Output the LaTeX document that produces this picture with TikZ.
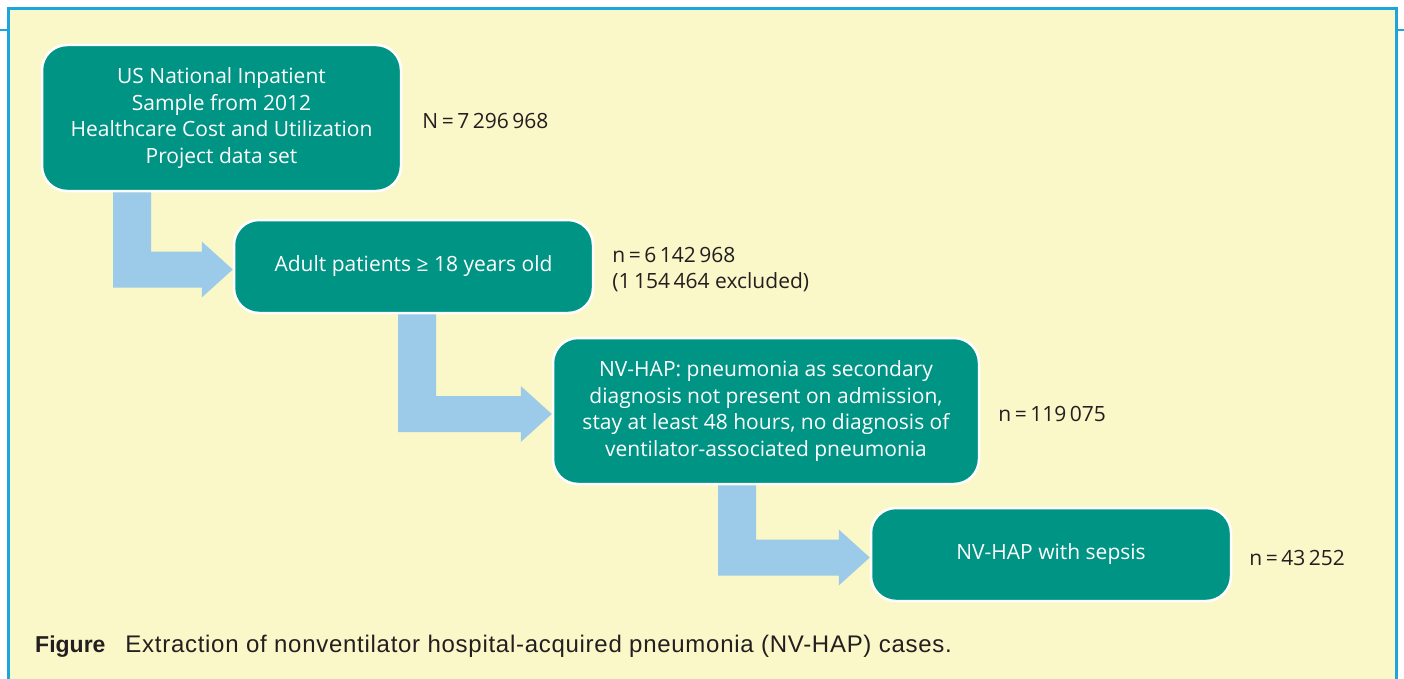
\documentclass[tikz,border=0pt]{standalone}
\usepackage{fontspec}
\setmainfont{Open Sans}
\newfontfamily\captionfont{Liberation Sans}
\newfontfamily\captionwide[LetterSpace=3]{Liberation Sans}
\usetikzlibrary{positioning, calc}
\definecolor{boxteal}{RGB}{0,148,133}
\definecolor{panelyellow}{RGB}{250,247,200}
\definecolor{frameblue}{RGB}{28,165,221}
\definecolor{arrowblue}{RGB}{156,203,233}
\definecolor{labelgray}{RGB}{35,31,32}

\newcommand{\elbowarrow}[3]{%
  \fill[flowarrow] let \p1=(#1.south), \p2=($(#2.west)+(0,3)$) in
    (#3pt,\y1) -- (#3pt+38pt,\y1) -- (#3pt+38pt,\y2+18pt) -- (\x2-31pt,\y2+18pt)
    -- (\x2-31pt,\y2+28pt) -- (\p2) -- (\x2-31pt,\y2-28pt) -- (\x2-31pt,\y2-18pt)
    -- (#3pt,\y2-18pt) -- cycle;}

\begin{document}
\begin{tikzpicture}[x=1pt, y=-1pt,
    flowbox/.style={draw=white, line width=2.5pt, fill=boxteal, rounded corners=25pt,
      text=white, align=center, inner sep=0pt, font=\fontsize{21}{26.4}\selectfont},
    countlabel/.style={text=labelgray, align=left, inner sep=0pt, yshift=-3pt,
      font=\fontsize{21}{26.4}\selectfont},
    flowarrow/.style={fill=arrowblue}]
    \useasboundingbox (0,0) rectangle (1404,679);
    \fill[panelyellow] (8,9) rectangle (1396,679);
    \draw[frameblue, line width=3pt] (8,679) -- (8,9) -- (1396,9) -- (1396,679);
    \draw[frameblue, line width=2.5pt] (0,30) -- (8,30) (1396,30) -- (1404,30);

    \node[flowbox, minimum width=359pt, minimum height=146pt] (source) at (221.5,118)
      {US National Inpatient\\Sample from 2012\\Healthcare Cost and Utilization\\Project data set};
    \node[flowbox, minimum width=359pt, minimum height=93pt] (adult) at (413.5,266.5)
      {Adult patients ≥ 18 years old};
    \node[flowbox, minimum width=426pt, minimum height=146pt] (criteria) at (766,411)
      {NV-HAP: pneumonia as secondary\\diagnosis not present on admission,\\stay at least 48 hours, no diagnosis of\\ventilator-associated pneumonia};
    \node[flowbox, minimum width=360pt, minimum height=93pt] (sepsis) at (1051,554.5)
      {NV-HAP with sepsis};

    \node[countlabel, right=20pt of source] (sourcen) {N\,=\,7\,296\,968};
    \node[countlabel, right=18pt of adult] (adultn) {n\,=\,6\,142\,968\\(1\,154\,464 excluded)};
    \node[countlabel, right=18pt of criteria] (criterian) {n\,=\,119\,075};
    \node[countlabel, right=17pt of sepsis] (sepsisn) {n\,=\,43\,252};

    \elbowarrow{source}{adult}{113}
    \elbowarrow{adult}{criteria}{398}
    \elbowarrow{criteria}{sepsis}{718}

    \node[anchor=west, inner sep=0pt, text=labelgray, font=\captionfont\fontsize{23}{27}\selectfont]
      (caption) at (35,646) {\textbf{Figure}\hspace{20pt}{\captionwide\fontsize{24}{27}\selectfont Extraction of nonventilator hospital-acquired pneumonia (NV-HAP) cases.}};
\end{tikzpicture}
\end{document}
